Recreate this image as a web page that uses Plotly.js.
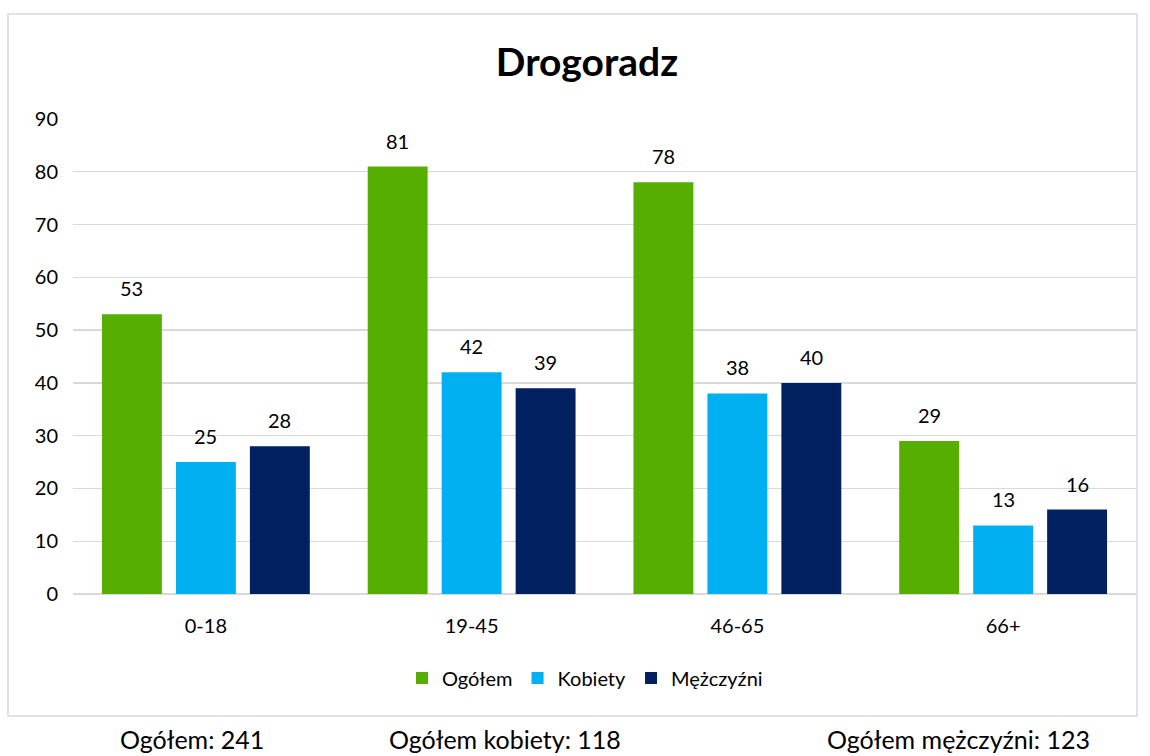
<!DOCTYPE html>
<html>
<head>
<meta charset="utf-8">
<script src="https://cdn.plot.ly/plotly-3.0.1.min.js"></script>
<style>
  html, body { margin: 0; padding: 0; background: #fff; }
  #chart { width: 1150px; height: 756px; }
</style>
</head>
<body>
<div id="chart"></div>
<script>
const categories = ["0-18", "19-45", "46-65", "66+"];
const seriesNames = ["Ogółem", "Kobiety", "Mężczyźni"];
const ogolem = [53, 81, 78, 29];
const kobiety = [25, 42, 38, 13];
const mezczyzni = [28, 39, 40, 16];
const yTicks = [0, 10, 20, 30, 40, 50, 60, 70, 80, 90];
const totalsText = ["Ogółem: 241", "Ogółem kobiety: 118", "Ogółem mężczyźni: 123"];

const colors = ["#56ae00", "#00b0f0", "#002060"];
const seriesValues = [ogolem, kobiety, mezczyzni];
const FONT = "Lato, Carlito, Calibri, sans-serif";

const traces = seriesValues.map((vals, i) => ({
  type: "bar",
  name: seriesNames[i],
  x: categories,
  y: vals,
  marker: { color: colors[i], line: { width: 0 } },
  hoverinfo: "x+y"
}));

// data labels as annotations above each bar
const annotations = [];
const offsets = [-74, 0, 74];
seriesValues.forEach((vals, i) => {
  vals.forEach((v, j) => {
    annotations.push({
      x: categories[j], y: v, xref: "x", yref: "y",
      text: String(v), showarrow: false,
      xshift: offsets[i], yshift: 12, yanchor: "bottom",
      font: { family: FONT, size: 20, color: "#000" }
    });
  });
});

const totalsX = [192, 505, 958];
totalsText.forEach((t, k) => {
  annotations.push({
    x: (totalsX[k] - 73) / 1063, y: (594 - 739) / 475,
    xref: "paper", yref: "paper", xanchor: "center", yanchor: "middle",
    text: t, showarrow: false,
    font: { family: FONT, size: 25, color: "#000" }
  });
});

const layout = {
  width: 1150, height: 756,
  margin: { l: 73, r: 14, t: 119, b: 162 },
  paper_bgcolor: "#fff", plot_bgcolor: "#fff",
  title: {
    text: "<b>Drogoradz</b>",
    x: 587 / 1150, xref: "container", xanchor: "center",
    y: 1 - 62 / 756, yref: "container", yanchor: "middle",
    font: { family: FONT, size: 39, color: "#000" }
  },
  barmode: "group",
  bargap: 0.165,
  bargroupgap: 0.19,
  xaxis: {
    type: "category",
    showgrid: false, zeroline: false, showline: false,
    ticks: "", ticklabelstandoff: 18,
    tickfont: { family: FONT, size: 20, color: "#000" }
  },
  yaxis: {
    range: [0, 90],
    tickvals: yTicks,
    ticktext: yTicks.map(String),
    showgrid: true, gridcolor: "#d9d9d9", gridwidth: 1.3,
    zeroline: true, zerolinecolor: "#d9d9d9", zerolinewidth: 1.3,
    showline: false, ticks: "",
    ticklabelstandoff: 14,
    tickfont: { family: FONT, size: 20, color: "#000" }
  },
  showlegend: true,
  legend: {
    orientation: "h",
    x: (585 - 73) / 1063, xanchor: "center",
    y: (594 - 678) / 475, yanchor: "middle",
    font: { family: FONT, size: 20, color: "#000" },
    itemwidth: 30,
    traceorder: "normal"
  },
  shapes: [{
    type: "rect", xref: "paper", yref: "paper",
    x0: (8 - 73) / 1063, x1: (1137 - 73) / 1063,
    y0: (594 - 716) / 475, y1: (594 - 14) / 475,
    line: { color: "#d9d9d9", width: 1.5 },
    fillcolor: "rgba(0,0,0,0)", layer: "below"
  }],
  annotations: annotations
};

Plotly.newPlot("chart", traces, layout, { displayModeBar: false, staticPlot: true });
</script>
</body>
</html>
